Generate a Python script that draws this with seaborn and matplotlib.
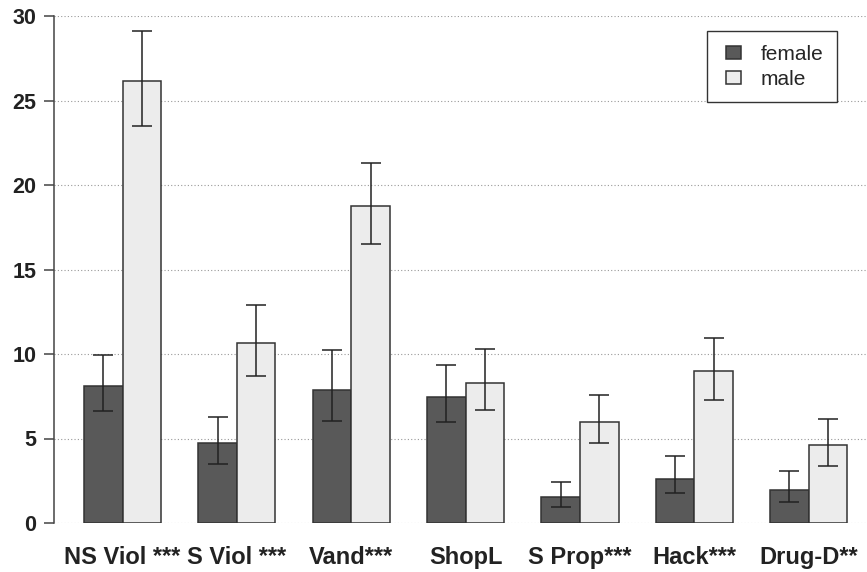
import matplotlib
matplotlib.use("Agg")
import matplotlib.pyplot as plt
from matplotlib.patches import Rectangle
from matplotlib.legend_handler import HandlerPatch
import seaborn as sns
import pandas as pd
import numpy as np

categories = ["NS Viol ***", "S Viol ***", "Vand***", "ShopL", "S Prop***", "Hack***", "Drug-D**"]
female_mean = [8.13, 4.75, 7.85, 7.46, 1.55, 2.6, 1.95]
female_lo = [6.6, 3.5, 6.02, 5.97, 0.96, 1.75, 1.24]
female_hi = [9.93, 6.3, 10.25, 9.33, 2.4, 3.96, 3.05]
male_mean = [26.15, 10.65, 18.78, 8.3, 5.97, 8.98, 4.62]
male_lo = [23.5, 8.7, 16.49, 6.67, 4.72, 7.26, 3.37]
male_hi = [29.1, 12.9, 21.32, 10.31, 7.58, 10.96, 6.17]
groups = ["female", "male"]
y_ticks = [0, 5, 10, 15, 20, 25, 30]

df = pd.DataFrame({
    "category": categories * 2,
    "sex": ["female"] * len(categories) + ["male"] * len(categories),
    "value": female_mean + male_mean,
})

sns.set_style("white")
plt.rcParams["font.family"] = ["Liberation Sans", "DejaVu Sans"]

fig = plt.figure(figsize=(8.67, 5.72), dpi=100)
ax = fig.add_axes([54 / 867, 1 - 523 / 572, 1 - 54 / 867, (523 - 16) / 572])

palette = {"female": "#595959", "male": "#ececec"}
sns.barplot(data=df, x="category", y="value", hue="sex", hue_order=groups,
            order=categories, palette=palette, edgecolor="#333333",
            linewidth=1.1, errorbar=None, width=0.674, gap=0, ax=ax, zorder=3)

means = {"female": (female_mean, female_lo, female_hi), "male": (male_mean, male_lo, male_hi)}
for cont, g in zip(ax.containers, groups):
    m, lo, hi = (np.array(a) for a in means[g])
    xs = [p.get_x() + p.get_width() / 2 for p in cont.patches]
    ax.errorbar(xs, m, yerr=[m - lo, hi - m], fmt="none", ecolor="#222222",
                elinewidth=1.1, capsize=7.2, capthick=1.1, zorder=4)

ax.set_xlim(-0.6, 6.51)
ax.set_ylim(0, 30)
ax.set_yticks(y_ticks)
ax.set_yticklabels([str(t) for t in y_ticks])
ax.set_xlabel("")
ax.set_ylabel("")

for s in ["top", "right", "bottom"]:
    ax.spines[s].set_visible(False)
ax.spines["left"].set_color("#444444")
ax.spines["left"].set_linewidth(1.1)

ax.yaxis.grid(True, linestyle=(0, (1, 2)), color="#999999", linewidth=0.8, zorder=0)
ax.xaxis.grid(False)
ax.set_axisbelow(True)

ax.tick_params(axis="y", length=7.2, width=1.1, color="#444444", pad=5.5,
               labelsize=15.5, labelcolor="#222222", left=True)
ax.tick_params(axis="x", length=0, pad=16.5, labelsize=17, labelcolor="#222222")
for lab in ax.get_yticklabels() + ax.get_xticklabels():
    lab.set_fontweight("bold")


def square_patch(legend, orig_handle, xdescent, ydescent, width, height, fontsize):
    sq_w = 0.72 * fontsize
    sq_h = 0.63 * fontsize
    return Rectangle((-xdescent + width - sq_w, -ydescent + (height - sq_h) / 2), sq_w, sq_h)


handles, labels = ax.get_legend_handles_labels()
leg = ax.legend(handles, labels, loc="upper right",
                bbox_to_anchor=(837 / 867, 1 - 31 / 572),
                bbox_transform=fig.transFigure, borderaxespad=0, fancybox=False,
                frameon=True, edgecolor="#333333", fontsize=15, handlelength=1.0,
                handleheight=0.63, handletextpad=0.95, labelspacing=0.3,
                borderpad=0.65,
                handler_map={Rectangle: HandlerPatch(patch_func=square_patch)})
leg.get_frame().set_linewidth(1.0)
leg.get_frame().set_alpha(1)

fig.savefig("out.png", dpi=100)
